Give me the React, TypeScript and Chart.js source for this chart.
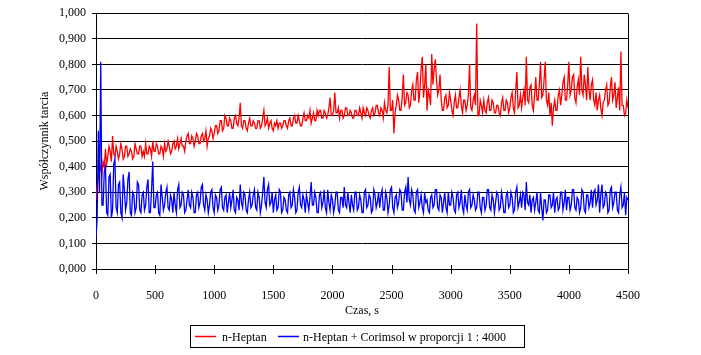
import { useEffect, useRef } from 'react';
import { Chart, registerables } from 'chart.js';

Chart.register(...registerables);

// ---- data ----
const SAMPLE_INTERVAL_S = 10;
const X_MIN = 0;
const X_MAX = 4500;
const X_STEP = 500;
const Y_MIN = 0;
const Y_MAX = 1;
const Y_STEP = 0.1;

const X_TITLE = 'Czas, s';
const Y_TITLE = 'Współczynnik tarcia';
const SERIES_NAMES = ['n-Heptan', 'n-Heptan + Corimsol w proporcji 1 : 4000'];
const SERIES_COLORS = ['#ff0000', '#0000ff'];

// n-Heptan (every 10 s from 0 to 4500 s)
const HEPTAN = [
  0.27, 0.33, 0.36, 0.38, 0.40, 0.37, 0.42, 0.40, 0.47, 0.41, 0.44, 0.48, 0.46, 0.42, 0.52, 0.45, 0.44, 0.48, 0.46, 0.43,
  0.45, 0.49, 0.47, 0.43, 0.44, 0.48, 0.48, 0.44, 0.45, 0.47, 0.46, 0.43, 0.44, 0.49, 0.47, 0.45, 0.45, 0.48, 0.48, 0.44,
  0.46, 0.44, 0.49, 0.45, 0.45, 0.48, 0.47, 0.44, 0.50, 0.46, 0.46, 0.49, 0.48, 0.45, 0.45, 0.48, 0.47, 0.44, 0.49, 0.46,
  0.47, 0.50, 0.48, 0.45, 0.46, 0.49, 0.50, 0.47, 0.48, 0.51, 0.47, 0.49, 0.51, 0.48, 0.48, 0.46, 0.50, 0.52, 0.53, 0.49,
  0.49, 0.52, 0.51, 0.48, 0.50, 0.53, 0.52, 0.49, 0.49, 0.52, 0.53, 0.50, 0.51, 0.54, 0.48, 0.51, 0.52, 0.55, 0.54, 0.51,
  0.53, 0.56, 0.56, 0.53, 0.54, 0.58, 0.58, 0.54, 0.55, 0.60, 0.59, 0.56, 0.56, 0.59, 0.58, 0.55, 0.55, 0.59, 0.60, 0.57,
  0.56, 0.59, 0.65, 0.56, 0.55, 0.58, 0.58, 0.55, 0.54, 0.57, 0.59, 0.56, 0.56, 0.58, 0.57, 0.55, 0.55, 0.58, 0.58, 0.55,
  0.56, 0.59, 0.62, 0.56, 0.57, 0.59, 0.55, 0.57, 0.58, 0.55, 0.54, 0.57, 0.56, 0.58, 0.55, 0.57, 0.57, 0.55, 0.56, 0.58,
  0.58, 0.56, 0.55, 0.58, 0.59, 0.56, 0.56, 0.59, 0.60, 0.57, 0.57, 0.60, 0.58, 0.56, 0.56, 0.59, 0.61, 0.58, 0.58, 0.60,
  0.59, 0.62, 0.57, 0.59, 0.61, 0.58, 0.58, 0.62, 0.60, 0.62, 0.62, 0.59, 0.59, 0.62, 0.61, 0.59, 0.60, 0.63, 0.67, 0.60,
  0.60, 0.62, 0.69, 0.61, 0.61, 0.63, 0.59, 0.62, 0.62, 0.59, 0.60, 0.63, 0.63, 0.60, 0.60, 0.62, 0.61, 0.59, 0.59, 0.62,
  0.62, 0.60, 0.60, 0.63, 0.61, 0.59, 0.63, 0.61, 0.60, 0.63, 0.62, 0.60, 0.59, 0.62, 0.63, 0.60, 0.61, 0.64, 0.64, 0.61,
  0.60, 0.63, 0.62, 0.59, 0.65, 0.62, 0.61, 0.64, 0.79, 0.62, 0.62, 0.66, 0.53, 0.61, 0.64, 0.68, 0.66, 0.62, 0.62, 0.67,
  0.76, 0.64, 0.65, 0.69, 0.68, 0.63, 0.64, 0.70, 0.72, 0.66, 0.66, 0.74, 0.77, 0.65, 0.70, 0.78, 0.83, 0.67, 0.72, 0.80,
  0.62, 0.70, 0.68, 0.64, 0.84, 0.72, 0.78, 0.82, 0.74, 0.68, 0.70, 0.76, 0.66, 0.62, 0.62, 0.67, 0.68, 0.63, 0.64, 0.69,
  0.66, 0.62, 0.60, 0.65, 0.68, 0.63, 0.63, 0.67, 0.70, 0.64, 0.61, 0.66, 0.66, 0.62, 0.64, 0.68, 0.80, 0.63, 0.62, 0.66,
  0.68, 0.64, 0.96, 0.60, 0.60, 0.66, 0.64, 0.61, 0.66, 0.62, 0.61, 0.65, 0.67, 0.62, 0.62, 0.66, 0.65, 0.61, 0.61, 0.64,
  0.64, 0.61, 0.60, 0.65, 0.67, 0.62, 0.62, 0.66, 0.65, 0.61, 0.63, 0.67, 0.69, 0.63, 0.61, 0.70, 0.77, 0.63, 0.64, 0.68,
  0.63, 0.67, 0.70, 0.64, 0.83, 0.66, 0.65, 0.71, 0.72, 0.64, 0.62, 0.68, 0.75, 0.66, 0.66, 0.72, 0.81, 0.67, 0.68, 0.74,
  0.81, 0.66, 0.64, 0.69, 0.60, 0.65, 0.56, 0.63, 0.66, 0.62, 0.62, 0.68, 0.70, 0.64, 0.68, 0.73, 0.75, 0.66, 0.66, 0.72,
  0.81, 0.68, 0.70, 0.75, 0.76, 0.67, 0.65, 0.71, 0.74, 0.68, 0.83, 0.70, 0.68, 0.76, 0.72, 0.66, 0.79, 0.70, 0.66, 0.72,
  0.74, 0.66, 0.64, 0.69, 0.62, 0.66, 0.68, 0.63, 0.60, 0.65, 0.66, 0.70, 0.72, 0.64, 0.65, 0.71, 0.75, 0.66, 0.68, 0.73,
  0.63, 0.67, 0.71, 0.62, 0.85, 0.64, 0.64, 0.60, 0.61, 0.66, 0.63,
];

// n-Heptan + Corimsol 1:4000 (every 10 s from 0 to 4500 s)
const CORIMSOL = [
  0.12, 0.20, 0.54, 0.30, 0.81, 0.25, 0.25, 0.38, 0.40, 0.22, 0.21, 0.36, 0.37, 0.20, 0.23, 0.41, 0.43, 0.24, 0.22, 0.33,
  0.34, 0.22, 0.20, 0.37, 0.31, 0.23, 0.26, 0.35, 0.38, 0.22, 0.21, 0.30, 0.29, 0.22, 0.24, 0.34, 0.33, 0.23, 0.22, 0.29,
  0.30, 0.23, 0.25, 0.32, 0.35, 0.22, 0.22, 0.31, 0.42, 0.24, 0.24, 0.29, 0.30, 0.22, 0.21, 0.33, 0.28, 0.23, 0.25, 0.30,
  0.32, 0.24, 0.23, 0.29, 0.27, 0.22, 0.30, 0.25, 0.22, 0.31, 0.33, 0.24, 0.25, 0.30, 0.29, 0.22, 0.23, 0.27, 0.31, 0.25,
  0.24, 0.30, 0.28, 0.22, 0.22, 0.29, 0.30, 0.24, 0.26, 0.32, 0.33, 0.25, 0.23, 0.29, 0.27, 0.22, 0.25, 0.30, 0.31, 0.24,
  0.22, 0.29, 0.28, 0.23, 0.25, 0.31, 0.32, 0.24, 0.23, 0.28, 0.29, 0.22, 0.26, 0.30, 0.24, 0.27, 0.31, 0.23, 0.22, 0.28,
  0.27, 0.23, 0.33, 0.26, 0.24, 0.30, 0.29, 0.23, 0.22, 0.27, 0.30, 0.24, 0.25, 0.29, 0.31, 0.24, 0.23, 0.30, 0.28, 0.22,
  0.25, 0.30, 0.36, 0.26, 0.24, 0.31, 0.33, 0.25, 0.26, 0.30, 0.22, 0.27, 0.29, 0.23, 0.24, 0.31, 0.30, 0.22, 0.23, 0.28,
  0.27, 0.23, 0.22, 0.29, 0.30, 0.24, 0.25, 0.31, 0.28, 0.22, 0.23, 0.30, 0.32, 0.25, 0.24, 0.29, 0.27, 0.22, 0.29, 0.26,
  0.23, 0.28, 0.34, 0.25, 0.25, 0.30, 0.28, 0.22, 0.22, 0.29, 0.30, 0.24, 0.26, 0.31, 0.24, 0.22, 0.31, 0.26, 0.23, 0.29,
  0.27, 0.22, 0.25, 0.30, 0.30, 0.23, 0.22, 0.28, 0.28, 0.24, 0.32, 0.25, 0.24, 0.30, 0.26, 0.22, 0.29, 0.25, 0.23, 0.30,
  0.30, 0.23, 0.24, 0.29, 0.27, 0.22, 0.22, 0.30, 0.31, 0.24, 0.25, 0.29, 0.28, 0.22, 0.23, 0.31, 0.29, 0.24, 0.26, 0.30,
  0.24, 0.29, 0.31, 0.23, 0.23, 0.30, 0.28, 0.22, 0.25, 0.31, 0.32, 0.24, 0.22, 0.28, 0.29, 0.24, 0.26, 0.31, 0.30, 0.23,
  0.23, 0.30, 0.32, 0.26, 0.36, 0.27, 0.25, 0.31, 0.29, 0.23, 0.22, 0.30, 0.31, 0.24, 0.26, 0.29, 0.24, 0.22, 0.30, 0.26,
  0.27, 0.23, 0.22, 0.28, 0.29, 0.24, 0.25, 0.31, 0.31, 0.24, 0.23, 0.29, 0.28, 0.22, 0.26, 0.30, 0.24, 0.22, 0.30, 0.25,
  0.25, 0.30, 0.28, 0.23, 0.22, 0.29, 0.30, 0.24, 0.26, 0.31, 0.24, 0.22, 0.29, 0.25, 0.23, 0.30, 0.31, 0.24, 0.25, 0.29,
  0.27, 0.23, 0.24, 0.30, 0.30, 0.24, 0.22, 0.28, 0.28, 0.23, 0.25, 0.31, 0.31, 0.24, 0.23, 0.29, 0.27, 0.22, 0.26, 0.30,
  0.29, 0.23, 0.24, 0.30, 0.27, 0.22, 0.22, 0.29, 0.30, 0.24, 0.25, 0.30, 0.28, 0.22, 0.23, 0.30, 0.32, 0.24, 0.26, 0.29,
  0.24, 0.30, 0.29, 0.23, 0.34, 0.26, 0.25, 0.29, 0.22, 0.27, 0.28, 0.23, 0.26, 0.30, 0.23, 0.22, 0.30, 0.24, 0.19, 0.27,
  0.27, 0.22, 0.23, 0.29, 0.29, 0.24, 0.25, 0.30, 0.22, 0.27, 0.28, 0.23, 0.24, 0.30, 0.30, 0.23, 0.26, 0.31, 0.23, 0.28,
  0.28, 0.23, 0.25, 0.31, 0.31, 0.24, 0.23, 0.28, 0.27, 0.22, 0.24, 0.31, 0.30, 0.23, 0.22, 0.29, 0.29, 0.24, 0.26, 0.31,
  0.24, 0.30, 0.31, 0.25, 0.27, 0.33, 0.22, 0.29, 0.33, 0.24, 0.25, 0.30, 0.29, 0.22, 0.23, 0.31, 0.32, 0.24, 0.26, 0.30,
  0.30, 0.23, 0.22, 0.29, 0.32, 0.24, 0.25, 0.30, 0.21, 0.28, 0.27,
];

const FONT_FAMILY = "'Liberation Serif', 'Times New Roman', serif";

const toPoints = (vals: number[]) =>
  vals.map((v, i) => ({ x: i * SAMPLE_INTERVAL_S, y: v }));

const framePlugin = {
  id: 'frame',
  afterDraw(chart: any) {
    const { ctx, chartArea } = chart;
    const xScale = chart.scales.x;
    ctx.save();
    ctx.strokeStyle = '#000';
    ctx.lineWidth = 1;
    // right border
    const rx = Math.round(chartArea.right) + 0.5;
    ctx.beginPath();
    ctx.moveTo(rx, Math.round(chartArea.top) + 0.5);
    ctx.lineTo(rx, Math.round(chartArea.bottom) + 0.5);
    ctx.stroke();
    // x ticks crossing the axis
    const by = Math.round(chartArea.bottom);
    for (let v = X_MIN; v <= X_MAX; v += X_STEP) {
      const px = Math.round(xScale.getPixelForValue(v)) + 0.5;
      ctx.beginPath();
      ctx.moveTo(px, by - 4);
      ctx.lineTo(px, by + 5);
      ctx.stroke();
    }
    // legend
    const lx = 190, ly = 325, lw = 334, lh = 22;
    ctx.fillStyle = '#fff';
    ctx.fillRect(lx, ly, lw, lh);
    ctx.strokeRect(lx + 0.5, ly + 0.5, lw, lh);
    const cy = ly + lh / 2 + 0.5;
    const items = [
      { x0: 195, x1: 216, tx: 222 },
      { x0: 278, x1: 299, tx: 303 },
    ];
    ctx.font = `12px ${FONT_FAMILY}`;
    ctx.textBaseline = 'middle';
    ctx.textAlign = 'left';
    items.forEach((it, i) => {
      ctx.strokeStyle = SERIES_COLORS[i];
      ctx.lineWidth = 1.5;
      ctx.beginPath();
      ctx.moveTo(it.x0, cy);
      ctx.lineTo(it.x1, cy);
      ctx.stroke();
      ctx.fillStyle = '#000';
      ctx.fillText(SERIES_NAMES[i], it.tx, cy + 1);
    });
    ctx.restore();
  },
};

export default function App() {
  const ref = useRef<HTMLCanvasElement | null>(null);
  useEffect(() => {
    if (!ref.current) return;
    const chart = new Chart(ref.current, {
      type: 'line',
      data: {
        datasets: [
          {
            label: SERIES_NAMES[0],
            data: toPoints(HEPTAN),
            borderColor: SERIES_COLORS[0],
            backgroundColor: SERIES_COLORS[0],
            borderWidth: 1.3,
            pointRadius: 0,
            tension: 0,
            order: 1,
          },
          {
            label: SERIES_NAMES[1],
            data: toPoints(CORIMSOL),
            borderColor: SERIES_COLORS[1],
            backgroundColor: SERIES_COLORS[1],
            borderWidth: 1.3,
            pointRadius: 0,
            tension: 0,
            order: 0,
          },
        ],
      },
      options: {
        responsive: false,
        animation: false,
        devicePixelRatio: 1,
        layout: { padding: { left: 0, right: 73, top: 10, bottom: 0 } },
        plugins: { legend: { display: false }, tooltip: { enabled: false } },
        scales: {
          x: {
            type: 'linear',
            min: X_MIN,
            max: X_MAX,
            afterFit: (s: any) => { s.height = 86; },
            ticks: {
              stepSize: X_STEP,
              padding: 12,
              color: '#000',
              font: { family: FONT_FAMILY, size: 12 },
              maxRotation: 0,
              callback: (v: any) => String(v),
            },
            grid: { display: false },
            border: { display: true, color: '#000', width: 1 },
            title: {
              display: true,
              text: X_TITLE,
              color: '#000',
              font: { family: FONT_FAMILY, size: 12 },
              padding: { top: 0, bottom: 37 },
            },
          },
          y: {
            type: 'linear',
            min: Y_MIN,
            max: Y_MAX,
            afterFit: (s: any) => { s.width = 96; },
            ticks: {
              stepSize: Y_STEP,
              padding: 6,
              color: '#000',
              font: { family: FONT_FAMILY, size: 12 },
              callback: (v: any) => Number(v).toFixed(3).replace('.', ','),
            },
            grid: { color: '#000', lineWidth: 1, tickLength: 4, drawTicks: true },
            border: { display: true, color: '#000', width: 1 },
            title: {
              display: true,
              text: Y_TITLE,
              color: '#000',
              font: { family: FONT_FAMILY, size: 12 },
              padding: { top: 38, bottom: 0 },
            },
          },
        },
      },
      plugins: [framePlugin],
    });
    return () => chart.destroy();
  }, []);
  return (
    <div style={{ position: 'fixed', left: 0, top: 0, width: 701, height: 355, background: '#fff' }}>
      <canvas ref={ref} width={701} height={355} />
    </div>
  );
}
